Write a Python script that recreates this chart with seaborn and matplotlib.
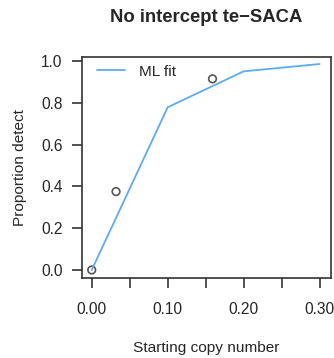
import matplotlib
matplotlib.use("Agg")
import matplotlib.pyplot as plt
import seaborn as sns
import pandas as pd

# ML fit curve (evaluated at the design copy numbers)
fit_copy = [0.00, 0.10, 0.20, 0.30]
fit_prop = [0.00, 0.778, 0.950, 0.985]

# observed proportion detected
obs_copy = [0.00, 0.032, 0.159]
obs_prop = [0.00, 0.375, 0.914]

x_ticks = [0.00, 0.05, 0.10, 0.15, 0.20, 0.25, 0.30]
x_labels = ["0.00", "", "0.10", "", "0.20", "", "0.30"]
y_ticks = [0.0, 0.2, 0.4, 0.6, 0.8, 1.0]

sns.set_style("ticks")
plt.rcParams["font.family"] = ["Liberation Sans", "DejaVu Sans"]

fit_df = pd.DataFrame({"copy": fit_copy, "prop": fit_prop})
obs_df = pd.DataFrame({"copy": obs_copy, "prop": obs_prop})

fig = plt.figure(figsize=(3.34, 3.58), dpi=100)
ax = fig.add_axes([82 / 334, 1 - 277.7 / 358, 249 / 334, 221 / 358])

sns.lineplot(data=fit_df, x="copy", y="prop", ax=ax, color="#5cacee",
             linewidth=1.3, label="ML fit")
sns.scatterplot(data=obs_df, x="copy", y="prop", ax=ax, facecolor="none",
                edgecolor="#555555", linewidth=1.2, s=30, legend=False)

ax.set_xlim(-0.0128, 0.315)
ax.set_ylim(-0.037, 1.02)
ax.set_xticks(x_ticks)
ax.set_xticklabels(x_labels)
ax.set_yticks(y_ticks)
ax.set_yticklabels([f"{v:.1f}" for v in y_ticks])
ax.tick_params(axis="x", length=7.5, width=1.2, pad=10, labelsize=11.2, color="#333333")
ax.tick_params(axis="y", length=7, width=1.2, pad=7, labelsize=11.2, color="#333333")
for s in ax.spines.values():
    s.set_linewidth(1.2)
    s.set_color("#333333")

ax.set_xlabel("Starting copy number", fontsize=11.1, labelpad=17)
ax.set_ylabel("Proportion detect", fontsize=11.1, labelpad=10)
ax.set_title("No intercept te\u2212SACA", fontsize=13.3, fontweight="bold", pad=25)

ax.legend(frameon=False, loc="upper left", bbox_to_anchor=(0.06, 0.963),
          borderaxespad=0, borderpad=0, handlelength=1.85, handletextpad=0.85,
          fontsize=11.1)

fig.savefig("out.png", dpi=100)
